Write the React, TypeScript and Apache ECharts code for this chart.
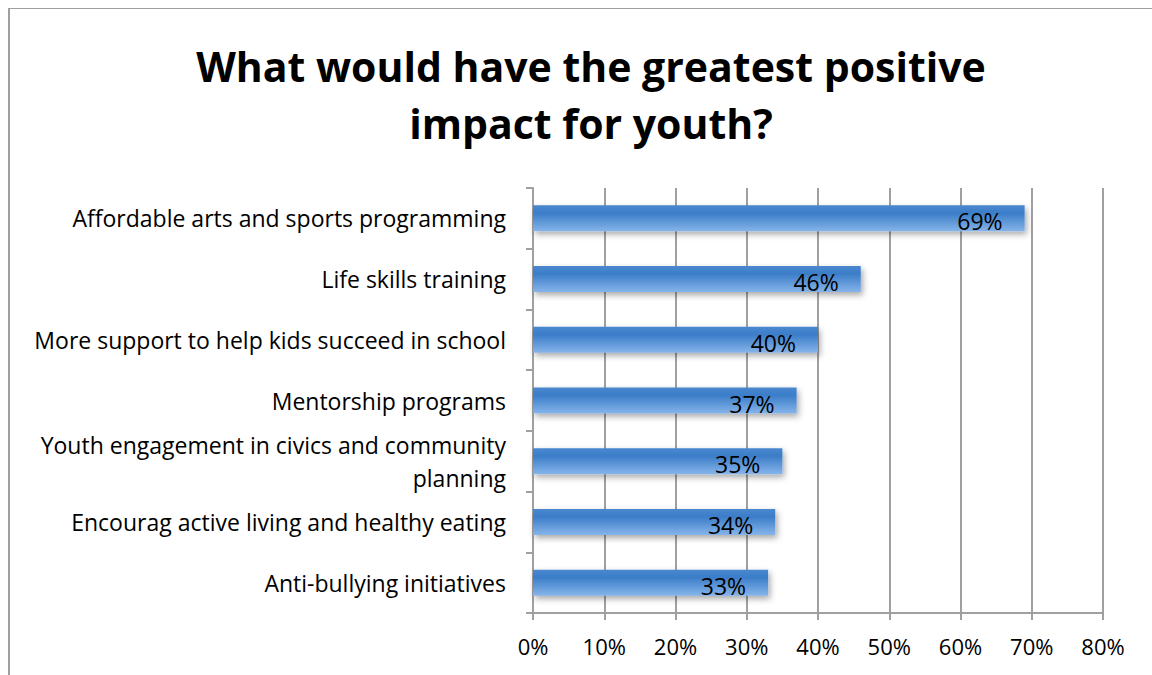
import React, { useEffect, useRef } from "react";
import * as echarts from "echarts";

const titleText = "What would have the greatest positive\nimpact for youth?";
const categories = [
  "Affordable arts and sports programming",
  "Life skills training",
  "More support to help kids succeed in school",
  "Mentorship programs",
  "Youth engagement in civics and community\nplanning",
  "Encourag active living and healthy eating",
  "Anti-bullying initiatives",
];
const values = [69, 46, 40, 37, 35, 34, 33];
const axisMax = 80;
const axisStep = 10;

const FONT = "'Open Sans', sans-serif";

export default function App() {
  const ref = useRef<HTMLDivElement>(null);
  useEffect(() => {
    if (!ref.current) return;
    const chart = echarts.init(ref.current, undefined, { renderer: "svg" });
    chart.setOption({
      animation: false,
      backgroundColor: "#ffffff",
      graphic: [
        {
          type: "rect",
          shape: { x: 1, y: 0, width: 1160, height: 690 },
          style: { fill: "none", stroke: "#a0a0a0", lineWidth: 2 },
          silent: true,
        },
      ],
      title: {
        text: titleText,
        left: 578,
        top: 24,
        textAlign: "center",
        textStyle: {
          fontFamily: FONT,
          fontWeight: "bold",
          fontSize: 41,
          lineHeight: 57,
          color: "#000",
        },
      },
      grid: { left: 525, right: 57, top: 180, bottom: 70, containLabel: false },
      xAxis: {
        type: "value",
        min: 0,
        max: axisMax,
        interval: axisStep,
        axisLine: { show: true, lineStyle: { color: "#a0a0a0", width: 2 } },
        axisTick: { show: true, length: 7, lineStyle: { color: "#a0a0a0", width: 2 } },
        splitLine: { show: true, lineStyle: { color: "#a0a0a0", width: 2 } },
        axisLabel: {
          formatter: (v: number) => v + "%",
          fontFamily: FONT,
          fontSize: 22,
          color: "#000",
          margin: 22,
        },
      },
      yAxis: {
        type: "category",
        data: categories,
        inverse: true,
        axisLine: { show: true, lineStyle: { color: "#a0a0a0", width: 2 } },
        axisTick: { show: true, length: 7, lineStyle: { color: "#a0a0a0", width: 2 } },
        axisLabel: {
          fontFamily: FONT,
          fontSize: 23,
          color: "#000",
          margin: 27,
          align: "right",
          lineHeight: 33,
        },
      },
      series: [
        {
          type: "bar",
          data: values,
          barWidth: 26,
          itemStyle: {
            color: new echarts.graphic.LinearGradient(0, 0, 0, 1, [
              { offset: 0, color: "#4a88cf" },
              { offset: 0.3, color: "#3b7dc8" },
              { offset: 1, color: "#86b4ea" },
            ]),
            shadowColor: "rgba(0,0,0,0.35)",
            shadowBlur: 6,
            shadowOffsetX: 2,
            shadowOffsetY: 3,
          },
          label: {
            show: true,
            position: "insideRight",
            distance: 22,
            formatter: (p: any) => p.value + "%",
            fontFamily: FONT,
            fontSize: 23,
            color: "#000",
            offset: [0, 3],
          },
        },
      ],
    });
    return () => chart.dispose();
  }, []);
  return <div ref={ref} style={{ width: 1152, height: 675, position: "absolute", left: 8, top: 8 }} />;
}
